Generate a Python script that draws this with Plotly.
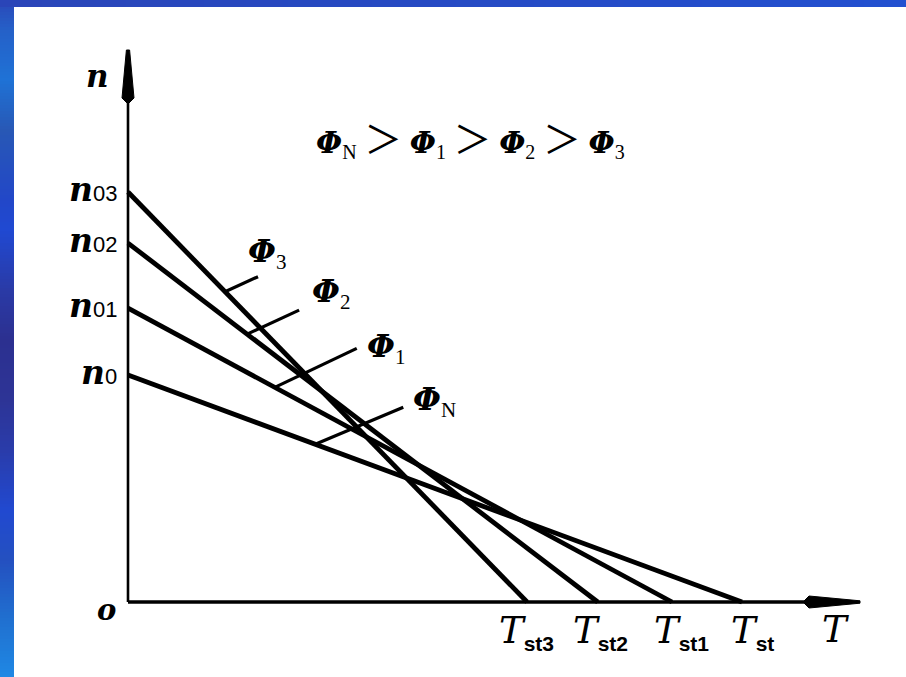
import plotly.graph_objects as go

# Speed-torque characteristics of a DC motor for four field fluxes,
# strongest flux first: Phi_N > Phi_1 > Phi_2 > Phi_3
flux_subs = ["N", "1", "2", "3"]
no_load_speed = [1.000, 1.295, 1.581, 1.806]      # n0, n01, n02, n03
starting_torque = [1.000, 0.886, 0.765, 0.650]    # Tst, Tst1, Tst2, Tst3
speed_subs = ["0", "01", "02", "03"]
torque_subs = ["st", "st1", "st2", "st3"]
leader_torque = [0.305, 0.239, 0.194, 0.158]      # where each flux label's leader meets its line

# drawing scale (pixels per unit) and origin in the page
SX, SY = 614.0, 227.0
OX, OY = 128.0, 602.0
W, H = 906, 677

# label / leader styling offsets in pixels
leader_vec = [(88, 37), (82, 39), (52, 24), (33, 15)]
flux_label_shift = [(8, 6), (8, 0), (11, 17), (-12, 24)]
torque_label_xshift = [-13, -20, -27, -30]

# axis extents
T_AXIS_END = (860 - OX) / SX
N_AXIS_END = (OY - 50) / SY
T_ARROW_LEN = 55 / SX
N_ARROW_LEN = 52 / SY

SERIF = "DejaVu Serif"
TIMES = "Liberation Serif"
SANS = "Liberation Sans"

fig = go.Figure()

# characteristic lines n = n0 * (1 - T / Tst)
for n0, tst in zip(no_load_speed, starting_torque):
    fig.add_trace(go.Scatter(x=[0, tst], y=[n0, 0], mode="lines",
                             line=dict(color="black", width=4.8),
                             hoverinfo="skip", showlegend=False))

# leaders from each line to its flux label
leader_ends = []
for n0, tst, tl, (dx, dy) in zip(no_load_speed, starting_torque, leader_torque, leader_vec):
    n_start = n0 * (1 - tl / tst)
    x_end, y_end = tl + dx / SX, n_start + dy / SY
    leader_ends.append((x_end, y_end))
    fig.add_trace(go.Scatter(x=[tl, x_end], y=[n_start, y_end], mode="lines",
                             line=dict(color="black", width=3.2),
                             hoverinfo="skip", showlegend=False))

# axes with arrowheads
fig.add_trace(go.Scatter(x=[0, 0], y=[0, N_AXIS_END - N_ARROW_LEN], mode="lines",
                         line=dict(color="black", width=2.6), hoverinfo="skip", showlegend=False))
fig.add_trace(go.Scatter(x=[0, T_AXIS_END - T_ARROW_LEN], y=[0, 0], mode="lines",
                         line=dict(color="black", width=3.4), hoverinfo="skip", showlegend=False))

hw_t = 6 / SX
fig.add_trace(go.Scatter(
    x=[-hw_t, -1.6 / SX, 1.6 / SX, hw_t, 0, -hw_t],
    y=[N_AXIS_END - N_ARROW_LEN + 4 / SY, N_AXIS_END, N_AXIS_END,
       N_AXIS_END - N_ARROW_LEN + 4 / SY, N_AXIS_END - N_ARROW_LEN - 2 / SY,
       N_AXIS_END - N_ARROW_LEN + 4 / SY],
    mode="lines", fill="toself", fillcolor="black", line=dict(color="black", width=1),
    hoverinfo="skip", showlegend=False))
hw_n = 6 / SY
fig.add_trace(go.Scatter(
    x=[T_AXIS_END - T_ARROW_LEN + 4 / SX, T_AXIS_END, T_AXIS_END,
       T_AXIS_END - T_ARROW_LEN + 4 / SX, T_AXIS_END - T_ARROW_LEN - 2 / SX,
       T_AXIS_END - T_ARROW_LEN + 4 / SX],
    y=[hw_n, 1.2 / SY, -1.2 / SY, -hw_n, 0, hw_n],
    mode="lines", fill="toself", fillcolor="black", line=dict(color="black", width=1),
    hoverinfo="skip", showlegend=False))

ann = []


def phi(sub, sub_size):
    return ("<b><i>Φ</i></b><sub><span style=\"font-family:%s;font-size:%dpx\">%s</span></sub>"
            % (TIMES, sub_size, sub))


# speed labels on the n axis
for n0, s in zip(no_load_speed, speed_subs):
    ann.append(dict(x=0, y=n0, xref="x", yref="y", xanchor="right", yanchor="middle",
                    xshift=-9, yshift=3, showarrow=False,
                    text="<b><i>n</i></b><span style=\"font-family:%s;font-size:22px\">%s</span>" % (SANS, s),
                    font=dict(family=SERIF, size=33, color="black")))

# starting-torque labels on the T axis
for tst, s, xs in zip(starting_torque, torque_subs, torque_label_xshift):
    ann.append(dict(x=tst, y=0, xref="x", yref="y", xanchor="left", yanchor="top",
                    xshift=xs, yshift=-5, showarrow=False,
                    text="<i>T</i><sub><span style=\"font-family:%s;font-weight:bold;font-size:21px\">%s</span></sub>" % (SANS, s),
                    font=dict(family=SERIF, size=37, color="black")))

# flux labels at the leader ends
for (xe, ye), f, (xs, ys) in zip(leader_ends, flux_subs, flux_label_shift):
    ann.append(dict(x=xe, y=ye, xref="x", yref="y", xanchor="left", yanchor="middle",
                    xshift=xs, yshift=ys, showarrow=False, text=phi(f, 21),
                    font=dict(family=SERIF, size=32, color="black")))

# axis names and origin
ann.append(dict(x=0, y=N_AXIS_END, xref="x", yref="y", xanchor="center", yanchor="middle",
                xshift=-31, yshift=-26, showarrow=False, text="<b><i>n</i></b>",
                font=dict(family=SERIF, size=31, color="black")))
ann.append(dict(x=T_AXIS_END, y=0, xref="x", yref="y", xanchor="center", yanchor="middle",
                xshift=-25, yshift=-27, showarrow=False, text="<i>T</i>",
                font=dict(family=SERIF, size=37, color="black")))
ann.append(dict(x=0, y=0, xref="x", yref="y", xanchor="center", yanchor="middle",
                xshift=-22, yshift=-8, showarrow=False, text="<b><i>o</i></b>",
                font=dict(family=SERIF, size=29, color="black")))

# flux ordering heading
gt = "<span style=\"font-family:Noto Sans CJK SC;font-size:38px\">\u2009＞\u2009</span>"
heading = gt.join(phi(f, 20) for f in flux_subs)
ann.append(dict(x=470 / W, y=1 - 136 / H, xref="paper", yref="paper",
                xanchor="center", yanchor="middle", showarrow=False, text=heading,
                font=dict(family=SERIF, size=30, color="black")))


# blue frame on the left and top edges
def hex_rgb(h):
    h = h.lstrip("#")
    return tuple(int(h[i:i + 2], 16) for i in (0, 2, 4))


def lerp_color(stops, p):
    for (p0, c0), (p1, c1) in zip(stops, stops[1:]):
        if p0 <= p <= p1:
            t = (p - p0) / (p1 - p0) if p1 > p0 else 0
            a, b = hex_rgb(c0), hex_rgb(c1)
            return "rgb(%d,%d,%d)" % tuple(round(a[i] + (b[i] - a[i]) * t) for i in range(3))
    return stops[-1][1]


left_stops = [(0, "#2a48b8"), (30, "#2560c8"), (80, "#1f72d6"), (130, "#2858b5"),
              (200, "#2247c8"), (230, "#2049d2"), (290, "#2a3aa6"), (340, "#2c3090"),
              (400, "#2d3496"), (450, "#2a3caa"), (510, "#2149d0"), (560, "#2450c0"),
              (620, "#2070d0"), (677, "#1f88e4")]
top_stops = [(0, "#2a45b8"), (906, "#2250d0")]

shapes = []
step = 3
for py in range(0, H, step):
    shapes.append(dict(type="rect", xref="paper", yref="paper",
                       x0=0, x1=14 / W, y0=1 - (py + step) / H, y1=1 - py / H,
                       fillcolor=lerp_color(left_stops, py + step / 2), line=dict(width=0),
                       layer="above"))
stepx = 6
for px in range(0, W, stepx):
    shapes.append(dict(type="rect", xref="paper", yref="paper",
                       x0=px / W, x1=(px + stepx) / W, y0=1 - 7 / H, y1=1,
                       fillcolor=lerp_color(top_stops, px + stepx / 2), line=dict(width=0),
                       layer="above"))

fig.update_layout(
    width=W, height=H,
    margin=dict(l=0, r=0, t=0, b=0, pad=0),
    paper_bgcolor="white", plot_bgcolor="white",
    xaxis=dict(range=[-OX / SX, (W - OX) / SX], visible=False, fixedrange=True),
    yaxis=dict(range=[-(H - OY) / SY, OY / SY], visible=False, fixedrange=True),
    annotations=ann, shapes=shapes, showlegend=False,
)

fig.write_html("out.html", config={"displayModeBar": False})
